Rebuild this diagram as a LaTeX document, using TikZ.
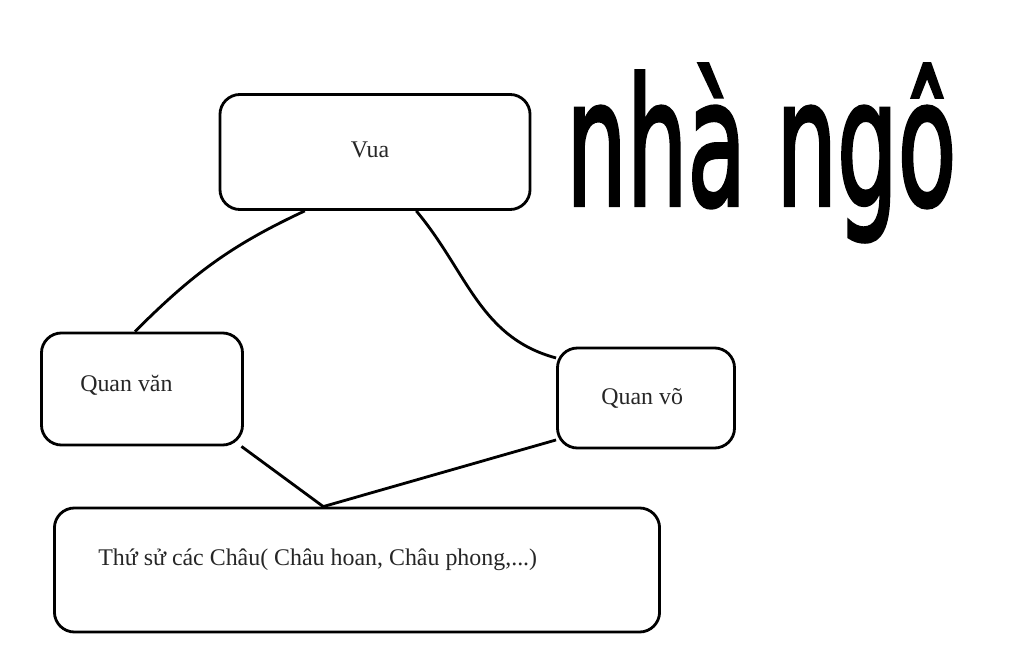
\documentclass[tikz,border=0pt]{standalone}
\usepackage{fontspec}
\setmainfont{Liberation Serif}
\newfontfamily\handfont[FakeBold=2.5]{DejaVu Sans}
\usepackage{tikz}
\usetikzlibrary{positioning}
\tikzset{
    hop/.style = {draw, line width=2pt, rounded corners=0.5cm, inner sep=0pt},
    chu/.style = {text=black!85, font=\fontsize{17}{20}\selectfont, inner sep=0pt},
    noi/.style = {line width=2pt}
}
\begin{document}
\begin{tikzpicture}[x=0.025cm, y=-0.025cm]
                \useasboundingbox (0,0) rectangle (1024,662);
                \node (vua) [hop, minimum width=7.75cm, minimum height=2.875cm] at (375, 152) {};
                \node (vuaT) [chu] at (370, 150) {Vua};
                \node (van) [hop, minimum width=5.025cm, minimum height=2.8cm] at (142, 389) {};
                \node (vanT) [chu, anchor=west] at (80, 385) {Quan văn};
                \node (vo) [hop, minimum width=4.425cm, minimum height=2.5cm] at (646, 398) {};
                \node (voT) [chu, anchor=west] at (601, 398) {Quan võ};
                \node (chau) [hop, minimum width=15.125cm, minimum height=3.1cm] at (357, 570) {};
                \node (chauT) [chu, anchor=west] at (98, 560) {Thứ sử các Châu( Châu hoan, Châu phong,...)};
                \node (nha) [anchor=base west, inner sep=0pt, font=\handfont\fontsize{100}{100}\selectfont] at (566, 205) {\scalebox{0.68}[1.25]{nhà ngô}};
                \draw[noi] (vua.220) to[out=205, in=45] (van.97);
                \draw[noi] (vua.-55) to[out=-50, in=165] (vo.156);
                \draw[noi] (van.-30) -- (chau.118) -- (vo.205);
            \end{tikzpicture}
\end{document}
